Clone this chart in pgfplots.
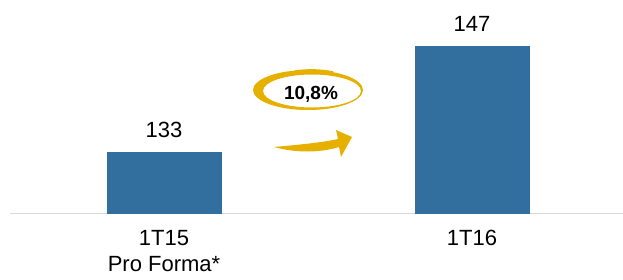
\documentclass[border=0pt]{standalone}
\usepackage{pgfplots}
\pgfplotsset{compat=1.18}
\usepackage{fontspec}
\setmainfont{Liberation Sans}
\definecolor{barblue}{RGB}{51,111,158}
\definecolor{gold}{RGB}{230,176,0}
\definecolor{axisgray}{RGB}{217,217,217}
\begin{document}
\begin{tikzpicture}[x=1pt,y=1pt]
\begin{axis}[
  at={(0pt,0pt)}, anchor=south west,
  scale only axis, width=613pt, height=212pt,
  xmin=-0.5, xmax=1.49, ymin=125, ymax=153,
  axis x line=bottom, axis y line=none,
  x axis line style={-, draw=axisgray, line width=1pt},
  xtick=data, xticklabels={{1T15\\Pro Forma*},{1T16}},
  major tick length=0pt,
  xticklabel style={align=center, font=\fontsize{22}{26}\selectfont, anchor=north, inner sep=0pt, yshift=-17pt},
  ytick=\empty,
  clip=false,
  /pgf/number format/assume math mode=true,
  nodes near coords,
  every node near coord/.append style={font=\fontsize{22}{26}\selectfont, inner sep=0pt, anchor=south, yshift=15pt, color=black},
]
\addplot[ybar, bar width=114pt, fill=barblue, draw=barblue] coordinates {(0,133) (1,147)};
\end{axis}
% growth annotation
\fill[gold, even odd rule] (298,123) ellipse [x radius=55, y radius=20] (302,122) ellipse [x radius=49, y radius=16.5];
\draw[gold, line width=1.5pt] (285,142) .. controls (300,144) and (313,143) .. (323,141);
\node[font=\bfseries\fontsize{19}{22}\selectfont] at (301,118.5) {10,8\%};
\fill[gold] (264,66) .. controls (285,60) and (310,60) .. (329,66) -- (331,56) -- (342,76) -- (326,83) -- (328,74) .. controls (310,70) and (285,68) .. (264,66) -- cycle;
\pgfresetboundingbox
\path[use as bounding box] (-10,-66) rectangle (613,213);
\end{tikzpicture}
\end{document}
